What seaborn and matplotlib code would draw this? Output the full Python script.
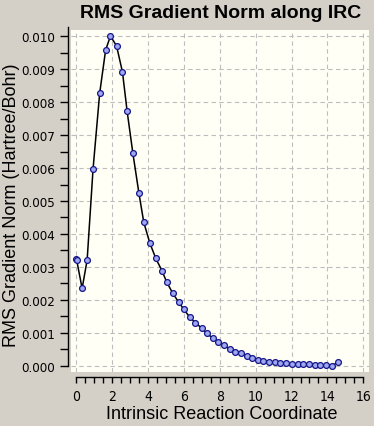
import matplotlib
matplotlib.use("Agg")
import matplotlib.pyplot as plt
import seaborn as sns
import numpy as np
import pandas as pd
from matplotlib.ticker import MultipleLocator, FormatStrFormatter

# Data
irc_coord = [0.0, 0.02, 0.32, 0.60, 0.93, 1.30, 1.63, 1.90, 2.24, 2.57, 2.83, 3.15,
             3.49, 3.76, 4.10, 4.43, 4.77, 5.04, 5.38, 5.71, 5.99, 6.32, 6.64, 6.98,
             7.29, 7.60, 7.92, 8.21, 8.54, 8.86, 9.18, 9.49, 9.81, 10.12, 10.43, 10.75,
             11.08, 11.38, 11.71, 12.04, 12.36, 12.65, 12.97, 13.30, 13.60, 13.92,
             14.27, 14.60]
rms_grad_milli = [3.25, 3.20, 2.35, 3.21, 5.97, 8.27, 9.57, 10.0, 9.70, 8.91, 7.72, 6.45,
                  5.23, 4.35, 3.72, 3.26, 2.89, 2.54, 2.20, 1.93, 1.72, 1.48, 1.31, 1.15,
                  0.99, 0.84, 0.73, 0.63, 0.52, 0.43, 0.38, 0.31, 0.25, 0.19, 0.16, 0.12,
                  0.11, 0.09, 0.08, 0.07, 0.05, 0.05, 0.05, 0.04, 0.02, 0.02,
                  0.01, 0.12]
rms_grad = [v / 1000.0 for v in rms_grad_milli]

title_text = "RMS Gradient Norm along IRC"
xlabel_text = "Intrinsic Reaction Coordinate"
ylabel_text = "RMS Gradient Norm (Hartree/Bohr)"

df = pd.DataFrame({"x": irc_coord, "y": rms_grad})

sns.set_style("ticks")
plt.rcParams['font.family'] = ['Liberation Sans', 'DejaVu Sans']
plt.rcParams['text.color'] = 'black'
plt.rcParams['xtick.color'] = 'black'
plt.rcParams['ytick.color'] = 'black'
plt.rcParams['xtick.labelcolor'] = 'black'
plt.rcParams['ytick.labelcolor'] = 'black'

W, H = 374, 427
fig = plt.figure(figsize=(W / 100, H / 100), dpi=100)
fig.patch.set_facecolor("#d4d0c8")

left_px, right_px, top_px, bottom_px = 71, 369, 31, 373
ax = fig.add_axes([left_px / W, 1 - bottom_px / H,
                   (right_px - left_px) / W, (bottom_px - top_px) / H])
ax.set_facecolor("#fffff6")

sns.lineplot(data=df, x="x", y="y", sort=False, estimator=None, ax=ax,
             color="black", linewidth=1.1, marker="o", markersize=4.2,
             markerfacecolor="#9ea8f0", markeredgecolor="#16168a",
             markeredgewidth=0.9, zorder=3)

ax.set_xlim(-0.30, 16.32)
ax.set_ylim(-0.000182, 0.010182)

ax.xaxis.set_major_locator(MultipleLocator(2))
ax.xaxis.set_minor_locator(MultipleLocator(0.5))
ax.yaxis.set_major_locator(MultipleLocator(0.001))
ax.yaxis.set_minor_locator(MultipleLocator(0.0005))
ax.yaxis.set_major_formatter(FormatStrFormatter("%.3f"))
ax.xaxis.set_major_formatter(FormatStrFormatter("%d"))

ax.grid(True, which="major", color="#bdbdbd", linestyle=(0, (4, 3)), linewidth=0.8)
ax.set_axisbelow(True)

for s in ["top", "right"]:
    ax.spines[s].set_visible(False)
ax.spines["left"].set_position(("outward", 2.2))
ax.spines["bottom"].set_position(("outward", 3.6))
ax.spines["left"].set_bounds(0.0, 0.01027)
ax.spines["bottom"].set_bounds(0, 16)
for s in ["left", "bottom"]:
    ax.spines[s].set_color("black")
    ax.spines[s].set_linewidth(1.0)

ax.tick_params(axis="y", which="both", direction="out", length=6, width=1,
               color="black", pad=3, labelsize=9.5, labelcolor="black")
ax.tick_params(axis="x", which="both", direction="out", length=4, width=1,
               color="black", pad=5, labelsize=10, labelcolor="black")
for lab in ax.get_xticklabels() + ax.get_yticklabels():
    lab.set_family("DejaVu Sans")
    lab.set_fontstretch("condensed")

ax.set_xlabel("")
ax.set_ylabel("")
fig.text(222 / W, 1 - 415 / H, xlabel_text, ha="center", va="center",
         fontsize=13, color="black")
fig.text(12 / W, 1 - 205 / H, ylabel_text, ha="center", va="center",
         rotation=90, fontsize=13, color="black")
fig.text(221 / W, 1 - 13 / H, title_text, ha="center", va="center",
         fontsize=14, fontweight="bold", color="black")

fig.savefig("out.png", dpi=100, facecolor=fig.get_facecolor())
